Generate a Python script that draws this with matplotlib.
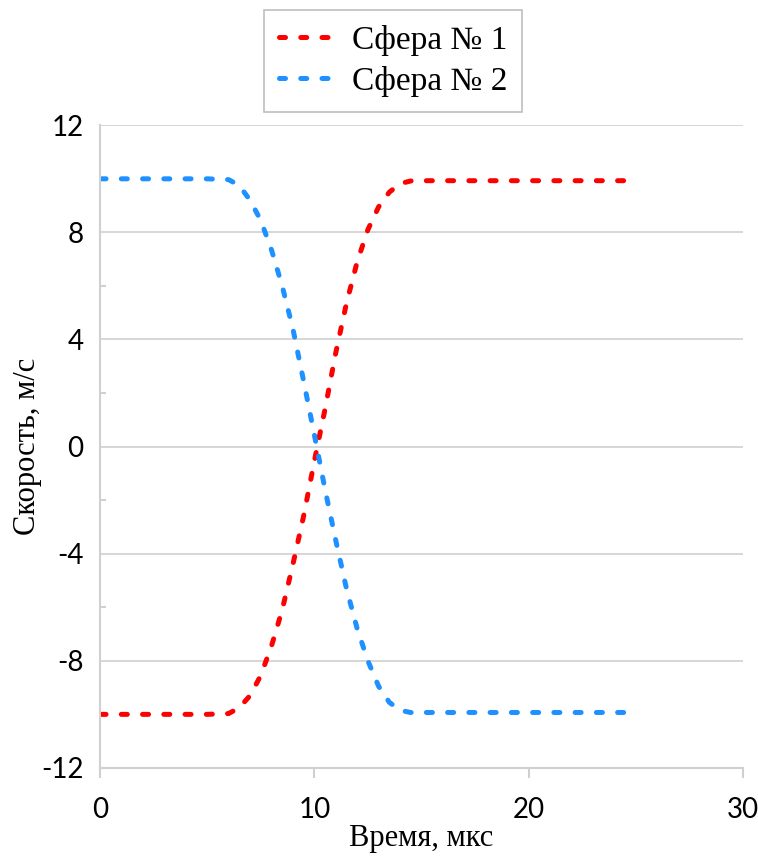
import matplotlib
matplotlib.use("Agg")
import matplotlib.pyplot as plt
from matplotlib.ticker import MultipleLocator

plt.rcParams["axes.unicode_minus"] = False

# time, mks
t = [0, 1, 2, 3, 4, 5, 6, 6.5, 7, 7.5, 8, 8.5, 9, 9.5, 10, 10.5, 11, 11.5,
     12, 12.5, 13, 13.5, 14, 14.5, 15, 16, 17, 18, 19, 20, 21, 22, 23, 24, 25]

# sphere 1 velocity, m/s
v1 = [-10, -10, -10, -10, -10, -10, -9.97, -9.75, -9.3, -8.55, -7.45, -6.1,
      -4.4, -2.6, -0.55, 1.4, 3.5, 5.35, 6.9, 8.1, 8.95, 9.5, 9.82, 9.92,
      9.93, 9.93, 9.93, 9.93, 9.93, 9.93, 9.93, 9.93, 9.93, 9.93, 9.93]

# sphere 2 velocity, m/s
v2 = [10, 10, 10, 10, 10, 10, 9.97, 9.75, 9.2, 8.45, 7.35, 6.0,
      4.4, 2.45, 0.45, -1.6, -3.5, -5.3, -6.8, -8.0, -8.95, -9.55, -9.85, -9.93,
      -9.93, -9.93, -9.93, -9.93, -9.93, -9.93, -9.93, -9.93, -9.93, -9.93, -9.93]

labels = ["Сфера № 1", "Сфера № 2"]
serif = "Liberation Serif"
sans = "Lato"
gray = "#d0d0d0"

fig = plt.figure(figsize=(7.58, 8.58), dpi=100)
ax = fig.add_axes([0.132, 0.105, 0.848, 0.749])

line_kw = dict(lw=3.6, dashes=(1.2, 3.05), dash_capstyle="round")
ax.plot(t, v1, color="#ff0000", label=labels[0], **line_kw)
ax.plot(t, v2, color="#1e90ff", label=labels[1], **line_kw)

ax.set_xlim(0, 30)
ax.set_ylim(-12, 12)
ax.xaxis.set_major_locator(MultipleLocator(10))
ax.yaxis.set_major_locator(MultipleLocator(4))
ax.yaxis.set_minor_locator(MultipleLocator(2))

ax.grid(axis="y", which="major", color=gray, lw=1.2)
ax.set_axisbelow(True)
for s in ["top", "right"]:
    ax.spines[s].set_visible(False)
for s in ["left", "bottom"]:
    ax.spines[s].set_color(gray)
    ax.spines[s].set_linewidth(1.5)

ax.tick_params(axis="x", which="major", direction="out", length=7, width=1.5,
               color=gray, pad=14, labelsize=20)
ax.tick_params(axis="y", which="major", length=0, pad=12, labelsize=20)
ax.tick_params(axis="y", which="minor", direction="in", length=4.5, width=1.5,
               color=gray)
for lab in ax.get_xticklabels() + ax.get_yticklabels():
    lab.set_fontfamily(sans)

ax.set_xlabel("Время, мкс", fontfamily=serif, fontsize=22)
ax.set_ylabel("Скорость, м/с", fontfamily=serif, fontsize=22)
ax.xaxis.set_label_coords(0.5, -0.088)
ax.yaxis.set_label_coords(-0.09, 0.5)

leg = fig.legend(loc="center", bbox_to_anchor=(0.5185, 0.929),
                 prop={"family": serif, "size": 24}, handlelength=1.7,
                 fancybox=False, edgecolor="#bfbfbf", framealpha=1,
                 labelspacing=0.3, borderpad=0.45, handletextpad=0.5)
leg.get_frame().set_linewidth(1.2)

fig.savefig("out.png", dpi=100)
